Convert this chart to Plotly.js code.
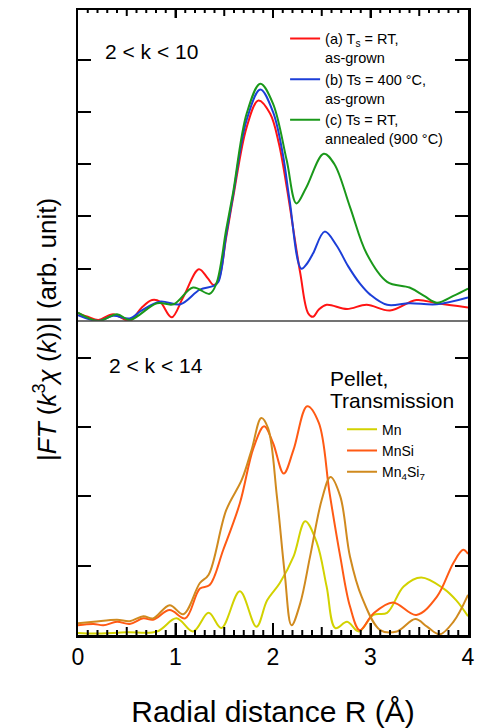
<!DOCTYPE html>
<html>
<head>
<meta charset="utf-8">
<script src="https://cdn.plot.ly/plotly-3.0.1.min.js"></script>
<style>html,body{margin:0;padding:0;background:#fff;}#chart{width:477px;height:728px;}</style>
</head>
<body>
<div id="chart"></div>
<script>
// Top panel (2 < k < 10)
const xA = [0, 0.1, 0.21, 0.36, 0.53, 0.65, 0.76, 0.84, 0.96, 1.08, 1.24, 1.33, 1.39, 1.44, 1.52, 1.59, 1.73, 1.85, 1.97, 2.06, 2.14, 2.28, 2.36, 2.41, 2.47, 2.55, 2.76, 2.96, 3.2, 3.47, 3.68, 4.0];
const yA = [0.15, 0.08, 0.02, 0.13, 0.0, 0.25, 0.4, 0.37, 0.07, 0.46, 0.99, 0.82, 0.69, 0.78, 1.6, 2.35, 3.71, 4.22, 3.97, 3.4, 2.57, 0.91, 0.15, 0.08, 0.22, 0.31, 0.23, 0.31, 0.2, 0.4, 0.34, 0.26];
const xB = [0, 0.21, 0.36, 0.53, 0.65, 0.84, 1.05, 1.25, 1.39, 1.44, 1.52, 1.59, 1.73, 1.87, 2.0, 2.1, 2.17, 2.29, 2.35, 2.41, 2.53, 2.65, 2.77, 2.89, 3.0, 3.17, 3.4, 3.68, 4.0];
const yB = [0.11, 0.0, 0.1, 0.05, 0.2, 0.37, 0.32, 0.6, 0.67, 0.75, 1.65, 2.4, 3.85, 4.43, 4.0, 3.2, 2.31, 1.0, 1.1, 1.29, 1.71, 1.45, 1.05, 0.72, 0.5, 0.31, 0.34, 0.32, 0.45];
const xC = [0, 0.21, 0.4, 0.53, 0.81, 0.98, 1.18, 1.35, 1.42, 1.52, 1.59, 1.73, 1.87, 2.0, 2.14, 2.24, 2.34, 2.52, 2.63, 2.79, 2.96, 3.17, 3.4, 3.55, 3.68, 3.85, 4.0];
const yC = [0.16, 0.0, 0.13, 0.02, 0.34, 0.32, 0.64, 0.52, 0.72, 1.75, 2.45, 3.97, 4.54, 4.16, 3.08, 2.25, 2.55, 3.2, 3.0, 2.18, 1.29, 0.75, 0.64, 0.48, 0.35, 0.48, 0.62];
const topNames = ["(a) T<sub>s</sub> = RT,<br>as-grown", "(b) Ts = 400 °C,<br>as-grown", "(c) Ts = RT,<br>annealed (900 °C)"];

// Bottom panel (2 < k < 14), pellet transmission references
const xMn = [0, 0.16, 0.5, 0.81, 1.01, 1.18, 1.34, 1.47, 1.66, 1.83, 1.94, 2.07, 2.21, 2.33, 2.45, 2.55, 2.64, 2.76, 2.88, 3.03, 3.17, 3.34, 3.52, 3.75, 3.88, 4.0];
const yMn = [0.03, 0.02, 0.04, 0.05, 0.24, 0.05, 0.32, 0.1, 0.63, 0.12, 0.5, 0.75, 1.13, 1.64, 1.33, 0.7, 0.1, 0.19, 0.05, 0.29, 0.32, 0.7, 0.83, 0.67, 0.5, 0.27];
const xMnSi = [0, 0.16, 0.26, 0.4, 0.53, 0.67, 0.77, 0.94, 1.1, 1.25, 1.35, 1.49, 1.66, 1.8, 1.91, 2.0, 2.11, 2.21, 2.35, 2.47, 2.58, 2.69, 2.79, 2.89, 3.03, 3.23, 3.47, 3.68, 3.85, 3.95, 4.0];
const yMnSi = [0.14, 0.16, 0.14, 0.19, 0.16, 0.24, 0.22, 0.36, 0.24, 0.67, 0.72, 1.23, 1.9, 2.7, 3.01, 2.77, 2.33, 2.67, 3.3, 3.06, 2.05, 1.13, 0.41, 0.07, 0.31, 0.47, 0.29, 0.55, 1.04, 1.23, 1.17];
const xMn4Si7 = [0, 0.16, 0.4, 0.53, 0.67, 0.77, 0.94, 1.08, 1.25, 1.34, 1.52, 1.68, 1.78, 1.88, 1.95, 2.04, 2.12, 2.19, 2.28, 2.38, 2.5, 2.59, 2.69, 2.79, 2.91, 3.1, 3.27, 3.46, 3.58, 3.71, 3.85, 4.0];
const yMn4Si7 = [0.17, 0.19, 0.22, 0.2, 0.27, 0.24, 0.43, 0.3, 0.75, 0.87, 1.8, 2.24, 2.67, 3.13, 2.98, 2.0, 0.89, 0.14, 0.46, 1.13, 1.95, 2.28, 2.0, 1.13, 0.55, 0.07, 0.05, 0.23, 0.12, 0.01, 0.19, 0.58];
const bottomNames = ["Mn", "MnSi", "Mn<sub>4</sub>Si<sub>7</sub>"];

const FONT = "Liberation Sans, Arial, Helvetica, sans-serif";
const W = 2;

function tr(x, y, name, color, xa, ya, lg) {
  return {x: x, y: y, name: name, type: "scatter", mode: "lines",
    line: {color: color, width: W, shape: "spline", smoothing: 1},
    xaxis: xa, yaxis: ya, legend: lg, hoverinfo: "skip"};
}

const data = [
  tr(xA, yA, topNames[0], "#ff1414", "x2", "y2", "legend"),
  tr(xB, yB, topNames[1], "#1c3ed8", "x2", "y2", "legend"),
  tr(xC, yC, topNames[2], "#1a981a", "x2", "y2", "legend"),
  tr(xMn, yMn, bottomNames[0], "#d2d200", "x", "y", "legend2"),
  tr(xMnSi, yMnSi, bottomNames[1], "#ff5a14", "x", "y", "legend2"),
  tr(xMn4Si7, yMn4Si7, bottomNames[2], "#d08a1e", "x", "y", "legend2")
];

const split = 314 / 625;

// x-axis tick marks on the bottom and top frame edges (every 0.1, longer at 0.5 and 1)
const tickShapes = [];
for (let i = 1; i < 40; i++) {
  const v = i / 10;
  const isInt = i % 10 === 0, isHalf = i % 5 === 0;
  const bottomLen = isInt ? 12 : (isHalf ? 8 : 5);
  const topLen = isInt ? 8 : (isHalf ? 6 : 3);
  tickShapes.push({type: "line", xref: "x", yref: "paper", ysizemode: "pixel", yanchor: 0,
    x0: v, x1: v, y0: 0, y1: bottomLen, line: {color: "#000", width: 2}, layer: "above"});
  tickShapes.push({type: "line", xref: "x", yref: "paper", ysizemode: "pixel", yanchor: 1,
    x0: v, x1: v, y0: 0, y1: -topLen, line: {color: "#000", width: 2}, layer: "above"});
}

const layout = {
  width: 477, height: 728,
  margin: {l: 78, r: 9, t: 10, b: 93},
  font: {family: FONT, color: "#000"},
  showlegend: true,
  xaxis: {
    domain: [0, 1], anchor: "y", range: [0, 4], showline: true, linecolor: "#000", linewidth: 2.5,
    showgrid: false, zeroline: false,
    ticks: "inside", ticklen: 12, tickwidth: 2, tickcolor: "#000", dtick: 1,
    tickfont: {size: 23, family: FONT},
    title: {text: "Radial distance R (Å)", font: {size: 30, family: FONT}, standoff: 32}
  },
  xaxis2: {
    domain: [0, 1], anchor: "y2", range: [0, 4], side: "top", showline: true, linecolor: "#000", linewidth: 2.5,
    showgrid: false, zeroline: false,
    ticks: "inside", ticklen: 8, tickwidth: 2, tickcolor: "#000", dtick: 1, showticklabels: false
  },
  yaxis: {
    domain: [0, split], anchor: "x", range: [0, 4.53], showline: true, mirror: "ticks",
    linecolor: "#000", linewidth: 2.5, showgrid: false, zeroline: false,
    ticks: "inside", ticklen: 13, tickwidth: 2, tickcolor: "#000", dtick: 1, showticklabels: false
  },
  yaxis2: {
    domain: [split, 1], anchor: "x2", range: [0, 5.95], showline: true, mirror: "ticks",
    linecolor: "#000", linewidth: 2.5, showgrid: false, zeroline: false,
    ticks: "inside", ticklen: 13, tickwidth: 2, tickcolor: "#000", dtick: 1, showticklabels: false
  },
  legend: {x: 0.531, y: 0.98, xanchor: "left", yanchor: "top", valign: "top",
    bgcolor: "rgba(0,0,0,0)", borderwidth: 0,
    font: {size: 14.5, family: FONT}},
  legend2: {x: 0.677, y: 0.354, xanchor: "left", yanchor: "top",
    bgcolor: "rgba(0,0,0,0)", borderwidth: 0,
    font: {size: 14, family: FONT}},
  shapes: [
    {type: "line", xref: "paper", yref: "paper", x0: 0, x1: 1, y0: split, y1: split,
     line: {color: "#444", width: 1.5}}
  ].concat(tickShapes),
  annotations: [
    {text: "2 < k < 10", xref: "paper", yref: "paper", x: 0.064, y: 0.934,
     xanchor: "left", yanchor: "middle", showarrow: false, font: {size: 21, family: FONT}},
    {text: "2 < k < 14", xref: "paper", yref: "paper", x: 0.074, y: 0.432,
     xanchor: "left", yanchor: "middle", showarrow: false, font: {size: 21, family: FONT}},
    {text: "Pellet,", xref: "paper", yref: "paper", x: 0.642, y: (635 - 378) / 625,
     xanchor: "left", yanchor: "middle", align: "left", showarrow: false, font: {size: 21, family: FONT}},
    {text: "Transmission", xref: "paper", yref: "paper", x: 0.642, y: (635 - 401) / 625,
     xanchor: "left", yanchor: "middle", align: "left", showarrow: false, font: {size: 21, family: FONT}},
    {text: "|<i>FT</i> (<i>k</i><sup>3</sup><i>χ</i> (<i>k</i>))| (arb. unit)", xref: "paper", yref: "paper",
     x: -0.0846, y: 0.488, xanchor: "center", yanchor: "middle", textangle: -90,
     showarrow: false, font: {size: 26, family: FONT}}
  ]
};

Plotly.newPlot("chart", data, layout, {displayModeBar: false, staticPlot: true});
</script>
</body>
</html>
